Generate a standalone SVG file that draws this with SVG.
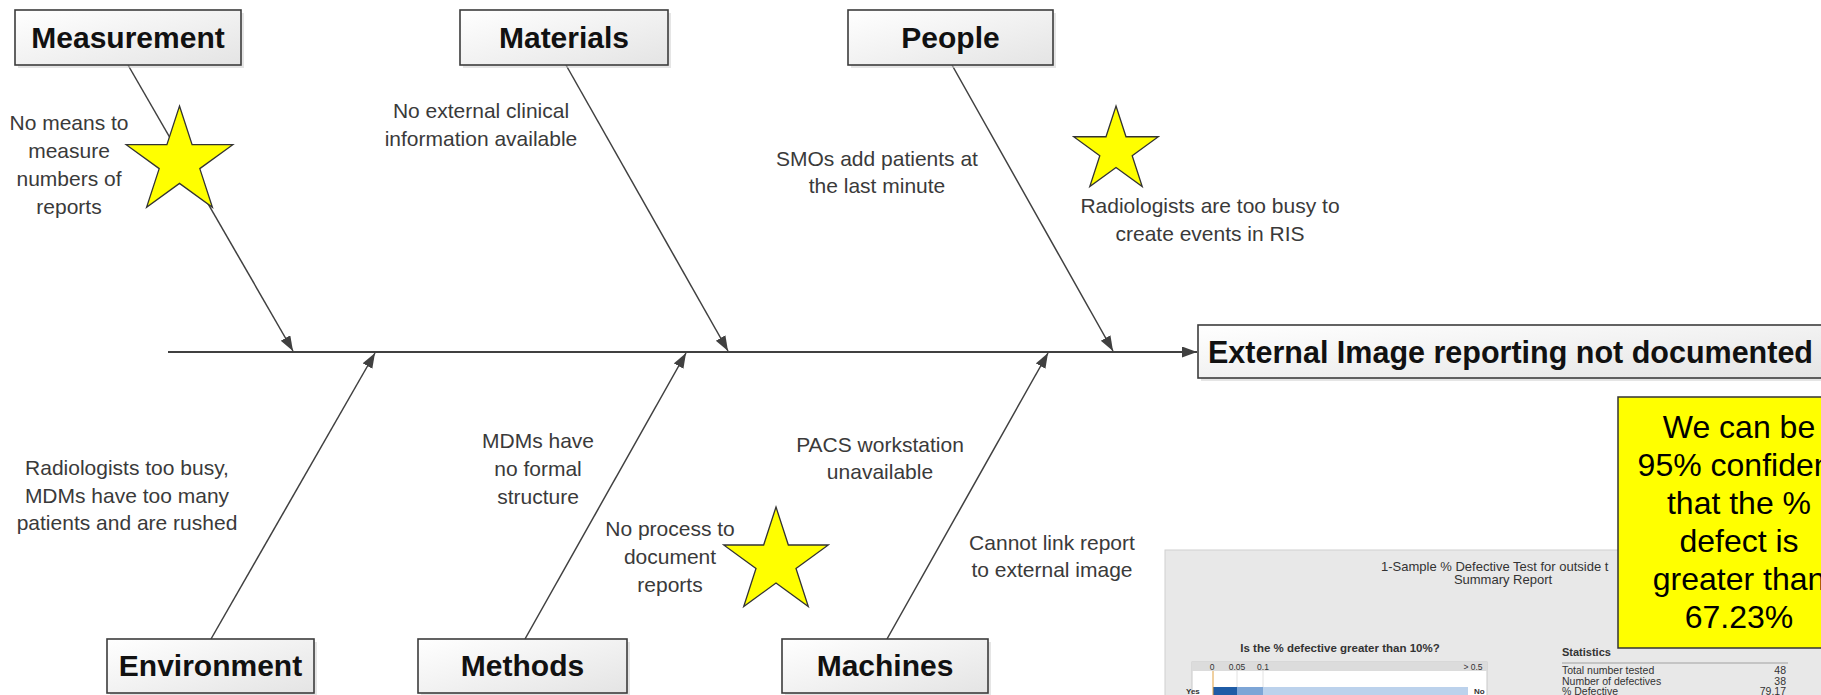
<svg xmlns="http://www.w3.org/2000/svg" width="1821" height="695" viewBox="0 0 1821 695">
<style>
.box{fill:url(#boxg);stroke:#3c3c3c;stroke-width:1.6}
.shadow{fill:#cfcfcf;opacity:0.55}
.title{font-family:"Liberation Sans",Arial,sans-serif;font-weight:bold;font-size:30px;fill:#111;text-anchor:middle}
.lbl{font-family:"Liberation Sans",Arial,sans-serif;font-size:21px;fill:#3a3a3a;text-anchor:middle}
.bone{stroke:#404040;stroke-width:1.5;fill:none;marker-end:url(#ah)}
.star{fill:#ffff00;stroke:#333;stroke-width:1.3;stroke-linejoin:miter}
.yt{font-family:"Liberation Sans",Arial,sans-serif;font-size:32px;fill:#000;text-anchor:middle}
.ss{font-family:"Liberation Sans",Arial,sans-serif;fill:#333}
</style>
<defs>
<linearGradient id="boxg" x1="0" y1="0" x2="1" y2="1">
<stop offset="0" stop-color="#ffffff"/>
<stop offset="1" stop-color="#e4e4e4"/>
</linearGradient>
<marker id="ah" markerUnits="userSpaceOnUse" markerWidth="16" markerHeight="12" refX="15" refY="5.5" orient="auto">
<path d="M0,0 L15,5.5 L0,11 z" fill="#404040"/>
</marker>
</defs>
<rect width="1821" height="695" fill="#ffffff"/>

<!-- Minitab screenshot -->
<g id="screenshot">
<rect x="1165" y="550" width="680" height="160" fill="#e8e8e8" stroke="#d0d0d0"/>
<text class="ss" x="1381" y="571" font-size="13">1-Sample % Defective Test for outside t</text>
<text class="ss" x="1503" y="584" font-size="13" text-anchor="middle">Summary Report</text>
<text class="ss" x="1340" y="652" font-size="11.5" font-weight="bold" text-anchor="middle" fill="#444">Is the % defective greater than 10%?</text>
<rect x="1192" y="662" width="295" height="40" fill="#ffffff" stroke="#c8c8c8"/>
<rect x="1192" y="662" width="295" height="9" fill="#dcdcdc"/>
<g class="ss" font-size="8.5" fill="#555" text-anchor="middle">
<text x="1212" y="669.5">0</text>
<text x="1237" y="669.5">0.05</text>
<text x="1263" y="669.5">0.1</text>
<text x="1473" y="669.5">&gt; 0.5</text>
</g>
<rect x="1213" y="687" width="24" height="12" fill="#1f5ca6"/>
<rect x="1237" y="687" width="26" height="12" fill="#7da5d6"/>
<rect x="1263" y="687" width="205" height="12" fill="#bcd2ec"/>
<line x1="1237" y1="671" x2="1237" y2="687" stroke="#e2e2e2"/>
<line x1="1263" y1="671" x2="1263" y2="687" stroke="#e2e2e2"/>
<line x1="1213" y1="671" x2="1213" y2="699" stroke="#e0a040" stroke-width="1"/>
<text class="ss" x="1186" y="694" font-size="8" font-weight="bold">Yes</text>
<text class="ss" x="1474" y="694" font-size="8" font-weight="bold">No</text>
<text class="ss" x="1562" y="656" font-size="11" font-weight="bold">Statistics</text>
<line x1="1562" y1="663" x2="1788" y2="663" stroke="#a0a0a0"/>
<g class="ss" font-size="10.5">
<text x="1562" y="674">Total number tested</text>
<text x="1562" y="685">Number of defectives</text>
<text x="1562" y="695">% Defective</text>
</g>
<g class="ss" font-size="10.5" text-anchor="end">
<text x="1786" y="674">48</text>
<text x="1786" y="685">38</text>
<text x="1786" y="695">79.17</text>
</g>
</g>

<!-- connectors -->
<g id="connectors">
<line x1="168" y1="352" x2="1197" y2="352" stroke="#404040" stroke-width="2" marker-end="url(#ah)"/>
<line class="bone" x1="128" y1="65" x2="293" y2="351"/>
<line class="bone" x1="566" y1="65" x2="728" y2="351"/>
<line class="bone" x1="952" y1="65" x2="1113" y2="351"/>
<line class="bone" x1="211" y1="639" x2="375" y2="353"/>
<line class="bone" x1="525" y1="639" x2="686" y2="353"/>
<line class="bone" x1="887" y1="639" x2="1048" y2="353"/>
</g>

<!-- category nodes -->
<g id="measurement">
<rect class="shadow" x="18" y="13" width="226" height="55"/>
<rect class="box" x="15" y="10" width="226" height="55"/>
<text class="title" x="128" y="48">Measurement</text>
</g>
<g id="materials">
<rect class="shadow" x="463" y="13" width="208" height="55"/>
<rect class="box" x="460" y="10" width="208" height="55"/>
<text class="title" x="564" y="48">Materials</text>
</g>
<g id="people">
<rect class="shadow" x="851" y="13" width="205" height="55"/>
<rect class="box" x="848" y="10" width="205" height="55"/>
<text class="title" x="950.5" y="48">People</text>
</g>
<g id="environment">
<rect class="shadow" x="110" y="642" width="207" height="54"/>
<rect class="box" x="107" y="639" width="207" height="54"/>
<text class="title" x="210.5" y="676">Environment</text>
</g>
<g id="methods">
<rect class="shadow" x="421" y="642" width="209" height="54"/>
<rect class="box" x="418" y="639" width="209" height="54"/>
<text class="title" x="522.5" y="676">Methods</text>
</g>
<g id="machines">
<rect class="shadow" x="785" y="642" width="206" height="54"/>
<rect class="box" x="782" y="639" width="206" height="54"/>
<text class="title" x="885" y="676">Machines</text>
</g>
<g id="effect">
<rect class="shadow" x="1201" y="328" width="660" height="53"/>
<rect class="box" x="1198" y="325" width="660" height="53"/>
<text class="title" x="1208" y="363" style="text-anchor:start;font-size:30.5px">External Image reporting not documented</text>
</g>

<!-- cause labels -->
<g id="cause-measurement">
<text class="lbl" x="69" y="130">No means to</text>
<text class="lbl" x="69" y="158">measure</text>
<text class="lbl" x="69" y="186">numbers of</text>
<text class="lbl" x="69" y="214">reports</text>
</g>
<g id="cause-materials">
<text class="lbl" x="481" y="118">No external clinical</text>
<text class="lbl" x="481" y="146">information available</text>
</g>
<g id="cause-people-1">
<text class="lbl" x="877" y="166">SMOs add patients at</text>
<text class="lbl" x="877" y="193">the last minute</text>
</g>
<g id="cause-people-2">
<text class="lbl" x="1210" y="213">Radiologists are too busy to</text>
<text class="lbl" x="1210" y="241">create events in RIS</text>
</g>
<g id="cause-environment">
<text class="lbl" x="127" y="475">Radiologists too busy,</text>
<text class="lbl" x="127" y="503">MDMs have too many</text>
<text class="lbl" x="127" y="530">patients and are rushed</text>
</g>
<g id="cause-methods-1">
<text class="lbl" x="538" y="448">MDMs have</text>
<text class="lbl" x="538" y="476">no formal</text>
<text class="lbl" x="538" y="504">structure</text>
</g>
<g id="cause-methods-2">
<text class="lbl" x="670" y="536">No process to</text>
<text class="lbl" x="670" y="564">document</text>
<text class="lbl" x="670" y="592">reports</text>
</g>
<g id="cause-machines-1">
<text class="lbl" x="880" y="452">PACS workstation</text>
<text class="lbl" x="880" y="479">unavailable</text>
</g>
<g id="cause-machines-2">
<text class="lbl" x="1052" y="550">Cannot link report</text>
<text class="lbl" x="1052" y="577">to external image</text>
</g>

<!-- stars -->
<g id="star-1"><polygon class="star" points="179.5,106 192.1,144.7 232.8,144.7 199.8,168.6 212.4,207.3 179.5,183.4 146.6,207.3 159.2,168.6 126.2,144.7 166.9,144.7"/></g>
<g id="star-2"><polygon class="star" points="1116,106 1126,136.75 1158.3,136.75 1132.2,155.75 1142.2,186.5 1116,167.5 1089.8,186.5 1099.8,155.75 1073.7,136.75 1106,136.75"/></g>
<g id="star-3"><polygon class="star" points="776,507 788.35,545 828.3,545 796,568.5 808.3,606.5 776,583 743.7,606.5 756,568.5 723.7,545 763.65,545"/></g>

<!-- callout -->
<g id="callout">
<rect x="1618" y="397" width="240" height="251" fill="#ffff00" stroke="#333" stroke-width="1.5"/>
<text class="yt" x="1739" y="438">We can be</text>
<text class="yt" x="1739" y="476">95% confident</text>
<text class="yt" x="1739" y="514">that the %</text>
<text class="yt" x="1739" y="552">defect is</text>
<text class="yt" x="1739" y="590">greater than</text>
<text class="yt" x="1739" y="628">67.23%</text>
</g>
</svg>
